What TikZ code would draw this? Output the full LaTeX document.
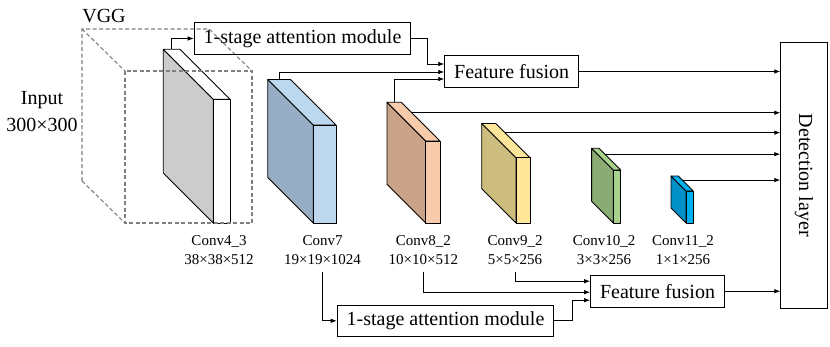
\documentclass[tikz,border=0pt]{standalone}
\usepackage{fontspec}
\setmainfont{Liberation Serif}
\usetikzlibrary{arrows.meta,positioning,calc}
\definecolor{cfl}{HTML}{CCCCCC}
\definecolor{csl}{HTML}{97ADC4}
\definecolor{csf}{HTML}{BDD7EE}
\definecolor{cel}{HTML}{C9A28A}
\definecolor{cef}{HTML}{F8CBAD}
\definecolor{cnl}{HTML}{CCBD7E}
\definecolor{cnf}{HTML}{FFE699}
\definecolor{ctl}{HTML}{8AAB74}
\definecolor{ctf}{HTML}{A9D18E}
\definecolor{cxl}{HTML}{0090C8}
\definecolor{cxf}{HTML}{00B0F0}
\definecolor{vggline}{HTML}{808080}

\begin{document}
\begin{tikzpicture}[x=1pt,y=-1pt]
\tikzset{box/.style={draw,thin,line width=0.8pt,minimum height=31.6pt,inner xsep=9.5pt,inner ysep=0pt,font=\fontsize{20}{24}\selectfont},
  slab/.style={draw,line width=0.8pt,line join=round},
  lbl/.style={align=center,inner sep=0pt,anchor=north,font=\fontsize{15}{19.3}\selectfont},
  link/.style={line width=0.8pt,-{Latex[length=6pt,width=4.5pt]}},
  vgg/.style={draw=vggline,line width=1.1pt,dash pattern=on 4pt off 2.5pt}}
\useasboundingbox (0,0) rectangle (830,346);

\foreach \n/\xa/\xb/\ya/\d/\cl/\cf in {c4/213.3/230/99.3/50/cfl/white, c7/313.3/336/125/45.5/csl/csf,
  c8/425.7/440/141/38.7/cel/cef, c9/516/530/157.7/34.3/cnl/cnf,
  c10/613.3/620.7/170/21.7/ctl/ctf, c11/686/693.3/191/15/cxl/cxf}{
  \draw[slab,fill=\cl] ({\xa-\d},{\ya-\d}) -- (\xa,\ya) -- (\xa,223) -- ({\xa-\d},{223-\d}) -- cycle;
  \draw[slab,fill=\cf] ({\xa-\d},{\ya-\d}) -- ({\xb-\d},{\ya-\d}) -- (\xb,\ya) -- (\xa,\ya) -- cycle;
  \draw[slab,fill=\cf] (\xa,\ya) rectangle (\xb,223);
  \coordinate (\n-u) at ({(\xa+\xb)/2-\d},{\ya-\d});
  \coordinate (\n-s) at ($({\xb-\d},{\ya-\d})!0.27!(\xb,\ya)$);
}

\draw[vgg] (82,181) -- (82,29) -- (209,29) -- (252,71);
\draw[vgg] (82,29) -- (125,71);
\draw[vgg] (82,181) -- (125,223);
\draw[vgg] (125,71) rectangle (252,223);

\node[anchor=base,font=\fontsize{20}{24}\selectfont] (vggname) at (104,22.7) {VGG};
\node[align=center,inner sep=0pt,anchor=north,font=\fontsize{20}{26.5}\selectfont] (inp) at (42,91.5) {Input\\300×300};

\foreach \n/\x/\a/\b in {l4/219/Conv4\_3/38×38×512, l7/322.5/Conv7/19×19×1024, l8/423.3/Conv8\_2/10×10×512,
  l9/515/Conv9\_2/5×5×256, l10/604/Conv10\_2/3×3×256, l11/683/Conv11\_2/1×1×256}
  \node[lbl] (\n) at (\x,235) {\a\\\b};

\node[box] (att1) at (302.5,38.5) {1-stage attention module};
\node[box] (fus1) at (511.7,71.5) {Feature fusion};
\node[box] (att2) at (445.5,320.8) {1-stage attention module};
\node[box] (fus2) at (657.5,291.2) {Feature fusion};
\node[draw,line width=0.8pt,minimum width=46.6pt,minimum height=266pt,inner sep=0pt] (det) at (804,175.3) {};
\node[rotate=-90,font=\fontsize{20}{24}\selectfont] (dettext) at (det.center) {Detection layer};

\draw[link] (c4-u) |- (att1.west);
\draw[link] (att1.east) -- ++(16.6,0) |- ($(fus1.west)+(0,-7.5)$);
\draw[link] (c7-u) |- ($(fus1.west)+(0,0.5)$);
\draw[link] (c8-u) |- ($(fus1.west)+(0,7.5)$);
\draw[link] (fus1.east) -- (fus1.east -| det.west);
\foreach \n in {c8,c9,c10,c11}
  \draw[link] (\n-s) -- (\n-s -| det.west);
\draw[link] ([yshift=-7pt]l7.south) |- (att2.west);
\draw[link] ([yshift=-7pt]l8.south) |- ($(fus2.west)+(0,1)$);
\draw[link] ([yshift=-7pt]l9.south) |- ($(fus2.west)+(0,-10)$);
\draw[link] (att2.east) -- ++(18,0) |- ($(fus2.west)+(0,9)$);
\draw[link] (fus2.east) -- (fus2.east -| det.west);
\end{tikzpicture}
\end{document}
